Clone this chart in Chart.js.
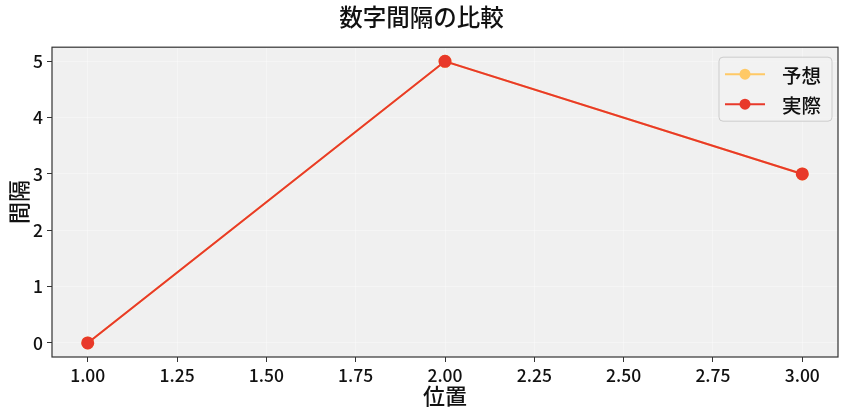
<!DOCTYPE html>
<html>
<head>
<meta charset="utf-8">
<script src="https://cdn.jsdelivr.net/npm/chart.js@4/dist/chart.umd.min.js"></script>
<style>
  html, body { margin: 0; padding: 0; background: #fff; }
  #wrap { width: 848px; height: 416px; }
</style>
</head>
<body>
<div id="wrap"><canvas id="chart" width="848" height="416"></canvas></div>
<script>
// data
const positions = [1, 2, 3];
const predicted = [0, 5, 3];
const actual = [0, 5, 3];
const xTicks = [1.0, 1.25, 1.5, 1.75, 2.0, 2.25, 2.5, 2.75, 3.0];
const yTicks = [0, 1, 2, 3, 4, 5];
const seriesNames = ['予想', '実際'];
const seriesColors = ['#ffc966', '#e8392a'];

const FONT = "'Noto Sans CJK JP', 'Noto Sans', sans-serif";

function toPoints(ys) {
    return positions.map((x, i) => ({ x: x, y: ys[i] }));
}

// matplotlib style frame, background and legend
const framePlugin = {
    id: 'frame',
    beforeDraw(chart) {
        const a = chart.chartArea;
        const ctx = chart.ctx;
        ctx.save();
        ctx.fillStyle = '#f0f0f0';
        ctx.fillRect(a.left, a.top, a.right - a.left, a.bottom - a.top);
        ctx.restore();
    },
    afterDraw(chart) {
        const a = chart.chartArea;
        const ctx = chart.ctx;
        ctx.save();
        ctx.strokeStyle = '#333';
        ctx.lineWidth = 1.2;
        ctx.strokeRect(a.left, a.top, a.right - a.left, a.bottom - a.top);

        const bx = a.right - 119, by = a.top + 10, bw = 113, bh = 64;
        ctx.fillStyle = 'rgba(242,242,242,0.85)';
        ctx.strokeStyle = '#cccccc';
        ctx.lineWidth = 1;
        ctx.beginPath();
        ctx.roundRect(bx, by, bw, bh, 4);
        ctx.fill();
        ctx.stroke();
        seriesNames.forEach((name, i) => {
            const y = by + 17 + i * 30;
            ctx.strokeStyle = seriesColors[i];
            ctx.lineWidth = 2;
            ctx.beginPath();
            ctx.moveTo(bx + 6, y);
            ctx.lineTo(bx + 46, y);
            ctx.stroke();
            ctx.fillStyle = seriesColors[i];
            ctx.beginPath();
            ctx.arc(bx + 26, y, 5.5, 0, Math.PI * 2);
            ctx.fill();
            ctx.fillStyle = '#111';
            ctx.font = '500 19.5px ' + FONT;
            ctx.textBaseline = 'middle';
            ctx.textAlign = 'left';
            ctx.fillText(name, bx + 63, y + 1);
        });
        ctx.restore();
    }
};

new Chart(document.getElementById('chart'), {
    type: 'scatter',
    data: {
        datasets: [
            {
                label: seriesNames[0],
                data: toPoints(predicted),
                order: 2,
                showLine: true,
                borderColor: seriesColors[0],
                backgroundColor: seriesColors[0],
                borderWidth: 2,
                pointRadius: 5.5,
                pointHoverRadius: 5.5
            },
            {
                label: seriesNames[1],
                data: toPoints(actual),
                order: 1,
                showLine: true,
                borderColor: seriesColors[1],
                backgroundColor: seriesColors[1],
                borderWidth: 2,
                pointRadius: 5.5,
                pointHoverRadius: 5.5
            }
        ]
    },
    options: {
        responsive: false,
        animation: false,
        layout: { padding: { left: 5, right: 10, top: 0, bottom: 7 } },
        plugins: {
            legend: { display: false },
            tooltip: { enabled: false },
            title: {
                display: true,
                text: '数字間隔の比較',
                color: '#111',
                font: { family: FONT, size: 23.5, weight: '500' },
                padding: { top: 3, bottom: 16 }
            }
        },
        scales: {
            x: {
                type: 'linear',
                min: 0.9,
                max: 3.1,
                afterBuildTicks(axis) { axis.ticks = xTicks.map(v => ({ value: v })); },
                afterFit(axis) { axis.height = 52; },
                ticks: {
                    color: '#111',
                    font: { family: FONT, size: 17.5, weight: '500' },
                    padding: 3,
                    maxRotation: 0,
                    callback: v => Number(v).toFixed(2)
                },
                grid: { color: 'rgba(255,255,255,0.35)', lineWidth: 1, tickColor: '#333', tickLength: 5 },
                border: { display: false },
                title: {
                    display: true,
                    text: '位置',
                    color: '#111',
                    font: { family: FONT, size: 22, weight: '500' },
                    padding: { top: 0, bottom: 0 }
                }
            },
            y: {
                type: 'linear',
                min: -0.25,
                max: 5.25,
                afterBuildTicks(axis) { axis.ticks = yTicks.map(v => ({ value: v })); },
                afterFit(axis) { axis.width = 47; },
                ticks: {
                    color: '#111',
                    font: { family: FONT, size: 17.5, weight: '500' },
                    padding: 4
                },
                grid: { color: 'rgba(255,255,255,0.35)', lineWidth: 1, tickColor: '#333', tickLength: 5 },
                border: { display: false },
                title: {
                    display: true,
                    text: '間隔',
                    color: '#111',
                    font: { family: FONT, size: 22, weight: '500' },
                    padding: { top: 0, bottom: 0 }
                }
            }
        }
    },
    plugins: [framePlugin]
});
</script>
</body>
</html>
